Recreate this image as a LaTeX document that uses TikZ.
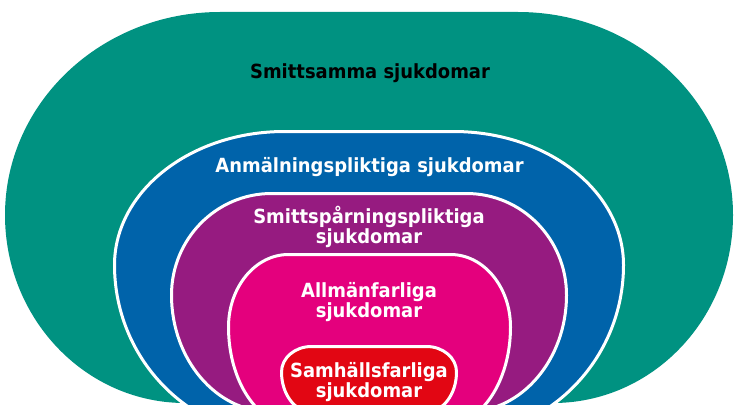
\documentclass[tikz,border=0pt]{standalone}
\usepackage{fontspec}
\newfontfamily\lblfont{DejaVu Sans}[FakeStretch=0.92]
\definecolor{cteal}{RGB}{0,146,129}
\definecolor{cblue}{RGB}{0,99,170}
\definecolor{cpurple}{RGB}{150,27,128}
\definecolor{cmagenta}{RGB}{228,0,125}
\definecolor{cred}{RGB}{226,6,19}
\def\kk{0.5523}
% #1 style, #2 xl, #3 xr, #4 ytop, #5 yext, #6 rxT, #7 rxB, #8 ryB
\newcommand{\blobshape}[8]{%
  \path[#1] (#2,#5)
    .. controls (#2,{#5-\kk*(#5-#4)}) and ({#2+#6-\kk*#6},#4) .. ({#2+#6},#4)
    -- ({#3-#6},#4)
    .. controls ({#3-#6+\kk*#6},#4) and (#3,{#5-\kk*(#5-#4)}) .. (#3,#5)
    .. controls (#3,{#5+\kk*#8}) and ({#3-#7+\kk*#7},{#5+#8}) .. ({#3-#7},{#5+#8})
    -- ({#2+#7},{#5+#8})
    .. controls ({#2+#7-\kk*#7},{#5+#8}) and (#2,{#5+\kk*#8}) .. cycle;}
\tikzset{
  ring/.style={fill=#1, draw=white, line width=3pt},
  lbl/.style={font=\lblfont\bfseries\fontsize{19.5}{20}\selectfont, text=white, align=center, inner sep=0pt, anchor=base},
}
\begin{document}
\begin{tikzpicture}[x=1pt,y=-1pt]
\useasboundingbox (0,0) rectangle (738,409);
\begin{scope}
\clip (0,0) rectangle (738,404);
\blobshape{fill=cteal}{5}{733}{12}{215}{215}{180}{188}
\blobshape{ring=cblue}{114.5}{623.5}{131.5}{265}{170}{170}{172}
\blobshape{ring=cpurple}{171.5}{566.5}{193.5}{295}{100}{100}{117}
\blobshape{ring=cmagenta}{228.5}{510.5}{254.5}{327}{60}{65}{98}
\blobshape{ring=cred}{281.5}{456.5}{346.5}{372}{30}{30}{40}
\end{scope}
\node[lbl, text=black] (t1) at (370,79) {Smittsamma sjukdomar};
\node[lbl] (t2) at (369.5,172) {Anmälningspliktiga sjukdomar};
\node[lbl] (t3) at (369,243) {Smittspårningspliktiga\\sjukdomar};
\node[lbl] (t4) at (369,317) {Allmänfarliga\\sjukdomar};
\node[lbl] (t5) at (369,397) {Samhällsfarliga\\sjukdomar};
\end{tikzpicture}
\end{document}
